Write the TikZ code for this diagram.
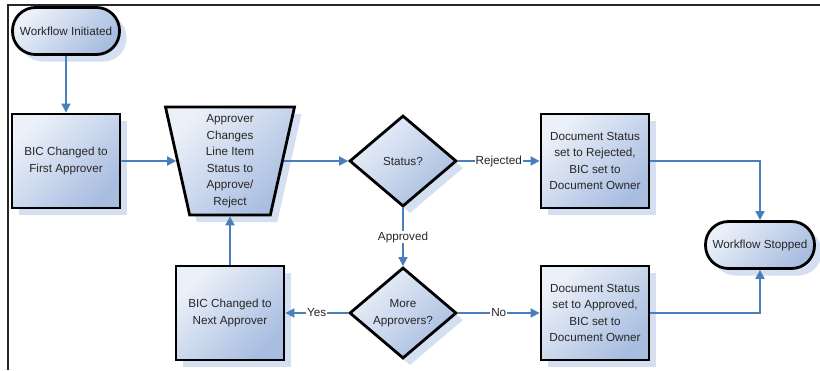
\documentclass[tikz,border=0pt]{standalone}
\usepackage{fontspec}
\setmainfont{Liberation Sans}
\usetikzlibrary{arrows.meta,shapes.geometric,shadows}
\definecolor{boxlight}{RGB}{236,241,249}
\definecolor{boxdark}{RGB}{168,189,224}
\definecolor{shadowblue}{RGB}{212,224,241}
\definecolor{linkblue}{RGB}{74,126,187}
\tikzset{
    shape base/.style={draw=black,line width=2.8pt,align=center,text=black!85,
        top color=boxlight,bottom color=boxdark,shading angle=45,
        drop shadow={shadow xshift=7pt,shadow yshift=-7pt,fill=shadowblue,draw=none,opacity=1}},
    terminal/.style={shape base,rectangle,rounded corners=23pt,minimum width=107pt,minimum height=47pt},
    process/.style={shape base,rectangle,minimum width=108pt,minimum height=94pt},
    manual/.style={shape base,trapezium,trapezium angle=76,shape border rotate=180,
        trapezium stretches body,minimum width=129pt,minimum height=108pt,inner sep=2pt},
    decision/.style={shape base,diamond,aspect=1.2,minimum width=107pt,minimum height=91pt,inner sep=0pt},
    lbl/.style={fill=white,text=black!85,inner sep=1pt}
}

\begin{document}
\begin{tikzpicture}[x=1pt,y=-1pt,->,>={Triangle[length=9pt,width=9pt]},
        node distance=164pt,font=\fontsize{11.7}{16.5}\selectfont,
        every edge/.append style={linkblue,line width=1.8pt}]

    \useasboundingbox (0,0) rectangle (820,370);
    \draw[-,line width=1.2pt,black!85] (8,370) -- (8,5) -- (820,5);

    \node[terminal] (init) at (66,31) {Workflow Initiated};
    \node[process] (first) [below of=init,node distance=130pt] {BIC Changed to\\First Approver};
    \node[manual] (change) [right of=first] {Approver\\Changes\\Line Item\\Status to\\Approve/\\Reject};
    \node[decision] (status) [right of=change,node distance=173pt] {Status?};
    \node[process] (rejected) [right of=status,node distance=192pt] {Document Status\\set to Rejected,\\BIC set to\\Document Owner};
    \node[decision] (more) [below of=status,node distance=152pt] {More\\Approvers?};
    \node[process] (next) [left of=more,node distance=173pt] {BIC Changed to\\Next Approver};
    \node[process] (approved) [right of=more,node distance=192pt] {Document Status\\set to Approved,\\BIC set to\\Document Owner};
    \node[terminal,minimum width=109pt] (stopped) at (760,245) {Workflow Stopped};

    \path (init) edge (first);
    \path (first) edge (change);
    \path (change) edge (status);
    \path (status) edge node[lbl] {Rejected} (rejected);
    \path (status) edge node[lbl] {Approved} (more);
    \path (more) edge node[lbl] {Yes} (next);
    \path (more) edge node[lbl] {No} (approved);
    \path (next) edge (change);
    \draw[linkblue,line width=1.8pt] (rejected) -| (stopped);
    \draw[linkblue,line width=1.8pt] (approved) -| (stopped);

\end{tikzpicture}
\end{document}
